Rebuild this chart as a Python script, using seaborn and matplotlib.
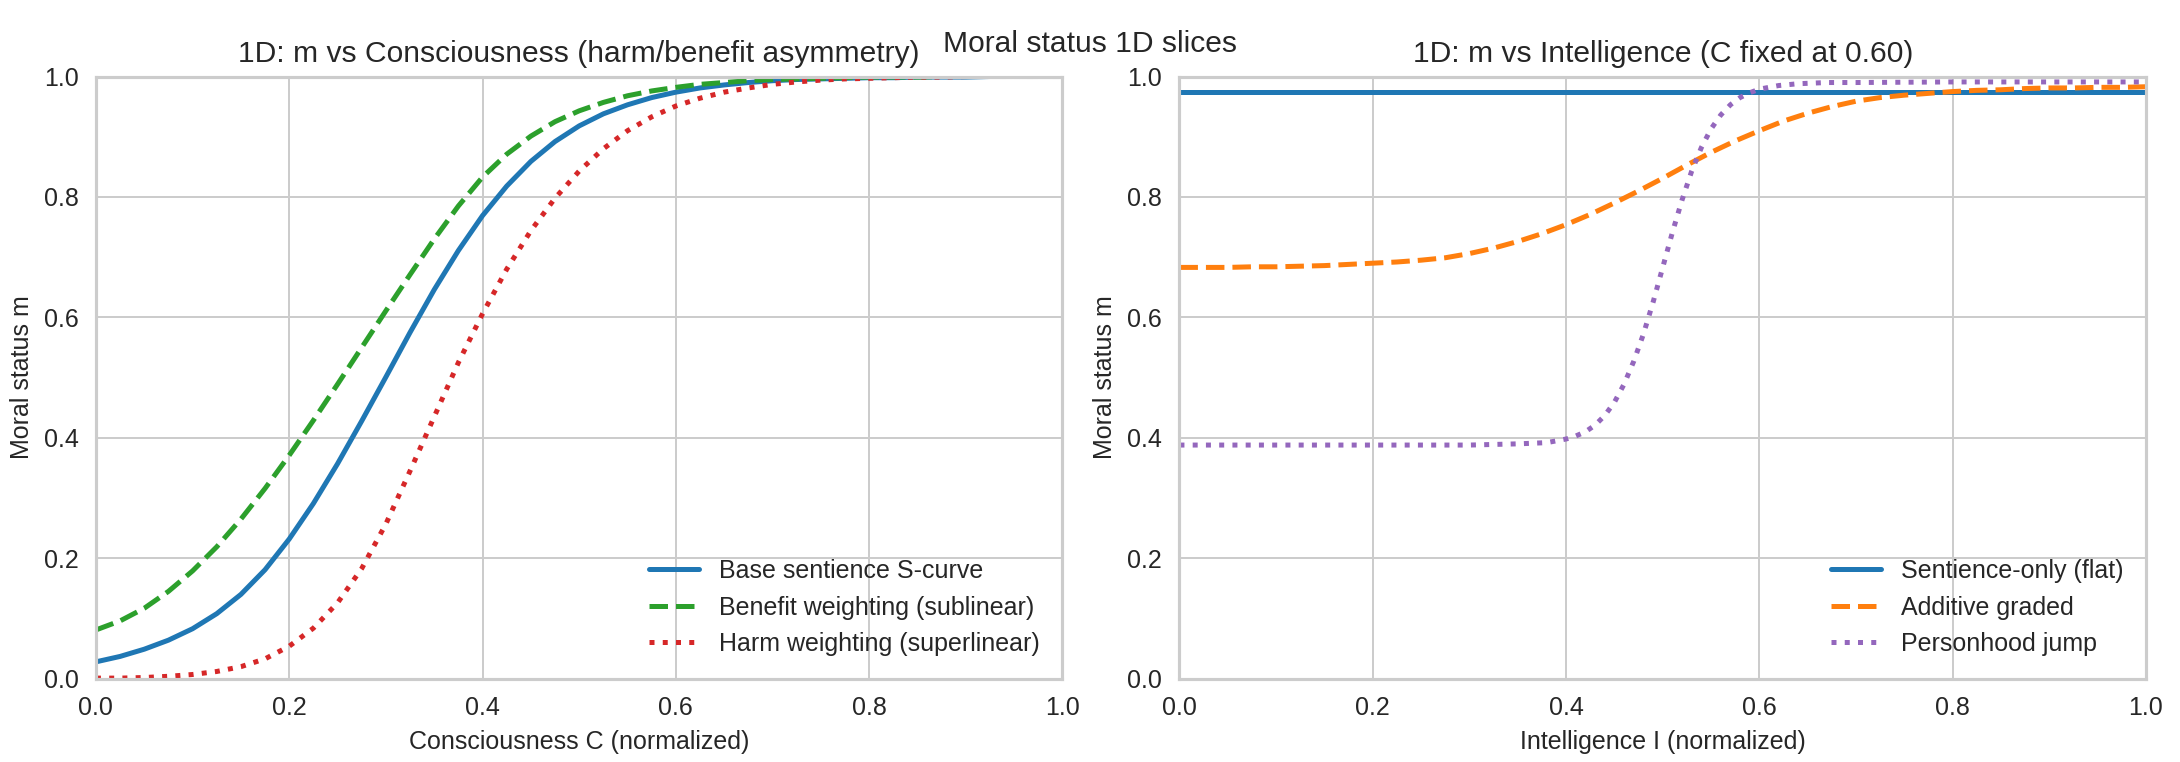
import numpy as np
import pandas as pd
import seaborn as sns
import matplotlib.pyplot as plt

# values
c_grid = [0.000, 0.025, 0.050, 0.075, 0.100, 0.125, 0.150, 0.175, 0.200, 0.225,
          0.250, 0.275, 0.300, 0.325, 0.350, 0.375, 0.400, 0.425, 0.450, 0.475,
          0.500, 0.525, 0.550, 0.575, 0.600, 0.625, 0.650, 0.675, 0.700, 0.725,
          0.750, 0.775, 0.800, 0.825, 0.850, 0.875, 0.900, 0.925, 0.950, 0.975, 1.000]

m_base = [0.028, 0.037, 0.049, 0.064, 0.083, 0.108, 0.140, 0.181, 0.232, 0.291,
          0.357, 0.428, 0.501, 0.575, 0.646, 0.711, 0.769, 0.818, 0.859, 0.892,
          0.918, 0.938, 0.953, 0.965, 0.974, 0.981, 0.986, 0.990, 0.993, 0.995,
          0.996, 0.997, 0.998, 0.998, 0.999, 0.999, 0.999, 1.000, 1.000, 1.000, 1.000]

m_benefit = [0.081, 0.096, 0.117, 0.145, 0.179, 0.219, 0.265, 0.316, 0.371, 0.429,
             0.489, 0.550, 0.611, 0.671, 0.730, 0.785, 0.833, 0.871, 0.901, 0.925,
             0.943, 0.957, 0.968, 0.976, 0.982, 0.987, 0.990, 0.993, 0.995, 0.996,
             0.997, 0.998, 0.999, 0.999, 0.999, 1.000, 1.000, 1.000, 1.000, 1.000, 1.000]

m_harm = [0.001, 0.001, 0.002, 0.004, 0.007, 0.012, 0.020, 0.033, 0.054, 0.084,
          0.126, 0.183, 0.257, 0.345, 0.435, 0.525, 0.606, 0.680, 0.744, 0.798,
          0.843, 0.880, 0.910, 0.933, 0.951, 0.964, 0.974, 0.981, 0.987, 0.991,
          0.994, 0.996, 0.997, 0.998, 0.999, 0.999, 1.000, 1.000, 1.000, 1.000, 1.000]

i_grid = c_grid
m_flat = [0.974] * len(i_grid)
m_additive = [0.683, 0.683, 0.683, 0.684, 0.684, 0.685, 0.686, 0.688, 0.690, 0.692,
              0.695, 0.699, 0.706, 0.715, 0.726, 0.739, 0.754, 0.771, 0.790, 0.810,
              0.831, 0.853, 0.874, 0.893, 0.910, 0.926, 0.939, 0.950, 0.959, 0.965,
              0.969, 0.972, 0.975, 0.977, 0.978, 0.980, 0.981, 0.981, 0.982, 0.982, 0.983]

i_jump = [0.00, 0.10, 0.20, 0.30, 0.35, 0.38, 0.40, 0.41, 0.42, 0.43, 0.44, 0.45,
          0.46, 0.47, 0.48, 0.49, 0.50, 0.51, 0.52, 0.53, 0.54, 0.55, 0.56, 0.57,
          0.58, 0.59, 0.60, 0.62, 0.64, 0.67, 0.70, 0.80, 0.90, 1.00]
m_jump = [0.388, 0.388, 0.388, 0.388, 0.390, 0.392, 0.398, 0.403, 0.410, 0.421, 0.437, 0.459,
          0.489, 0.527, 0.572, 0.625, 0.683, 0.741, 0.795, 0.843, 0.882, 0.913, 0.936, 0.953,
          0.965, 0.973, 0.979, 0.985, 0.988, 0.990, 0.990, 0.991, 0.991, 0.991]

sns.set_style("whitegrid")
plt.rcParams['font.family'] = ['Liberation Sans', 'DejaVu Sans']
plt.rcParams['axes.linewidth'] = 1.25

fig, axes = plt.subplots(1, 2, figsize=(2180 / 180, 762 / 180), dpi=180)
fig.subplots_adjust(left=0.044, right=0.9844, top=0.8996, bottom=0.1093, wspace=0.121)

ax = axes[0]
sns.lineplot(x=c_grid, y=m_base, ax=ax, color="#1f77b4", lw=2, label="Base sentience S-curve")
sns.lineplot(x=c_grid, y=m_benefit, ax=ax, color="#2ca02c", lw=2, linestyle="--",
             label="Benefit weighting (sublinear)")
sns.lineplot(x=c_grid, y=m_harm, ax=ax, color="#d62728", lw=2, linestyle=":",
             label="Harm weighting (superlinear)")
ax.set_xlim(0, 1)
ax.set_ylim(0, 1)
ax.set_xlabel("Consciousness C (normalized)")
ax.set_ylabel("Moral status m")
ax.set_title("1D: m vs Consciousness (harm/benefit asymmetry)", fontsize=12)
ax.legend(loc="lower right", frameon=False)

ax = axes[1]
sns.lineplot(x=i_grid, y=m_flat, ax=ax, color="#1f77b4", lw=2, label="Sentience-only (flat)")
sns.lineplot(x=i_grid, y=m_additive, ax=ax, color="#ff7f0e", lw=2, linestyle="--",
             label="Additive graded")
sns.lineplot(x=i_jump, y=m_jump, ax=ax, color="#9467bd", lw=2, linestyle=":",
             label="Personhood jump")
ax.set_xlim(0, 1)
ax.set_ylim(0, 1)
ax.set_xlabel("Intelligence I (normalized)")
ax.set_ylabel("Moral status m")
ax.set_title("1D: m vs Intelligence (C fixed at 0.60)", fontsize=12)
ax.legend(loc="lower right", frameon=False)

fig.suptitle("Moral status 1D slices", fontsize=12, y=0.96)

fig.savefig("out.png", dpi=180)
